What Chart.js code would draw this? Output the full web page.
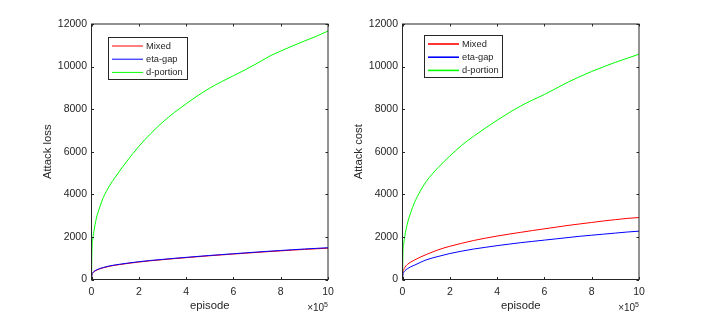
<!DOCTYPE html>
<html>
<head>
<meta charset="utf-8">
<script src="https://cdn.jsdelivr.net/npm/chart.js@4.4.1/dist/chart.umd.min.js"></script>
<style>
    body { margin: 0; background: #fff; width: 706px; height: 314px; overflow: hidden; position: relative; }
    canvas { position: absolute; top: 0; }
    #lossChart { left: 0; }
    #costChart { left: 311px; }
</style>
</head>
<body>
<canvas id="lossChart" width="353" height="314"></canvas>
<canvas id="costChart" width="353" height="314"></canvas>
<script>
// episodes in units of 10^5
const episodes = [0, 0.02, 0.05, 0.1, 0.2, 0.35, 0.5, 0.75, 1, 1.5, 2, 2.5, 3, 3.5, 4, 4.5, 5, 5.5, 6, 6.5, 7, 7.5, 8, 8.5, 9, 9.5, 10];

const seriesNames = ['Mixed', 'eta-gap', 'd-portion'];
const seriesColors = ['#ff0000', '#0000ff', '#00ff00'];

// Attack loss
const lossMixed = [0, 220, 300, 360, 430, 500, 550, 620, 670, 750, 820, 880, 930, 980, 1025, 1070, 1115, 1155, 1195, 1235, 1272, 1310, 1345, 1380, 1412, 1442, 1470];
const lossEtaGap = [0, 235, 315, 375, 445, 515, 565, 635, 685, 765, 835, 895, 945, 995, 1040, 1085, 1130, 1170, 1210, 1250, 1290, 1328, 1363, 1398, 1432, 1462, 1492];
const lossPortion = [0, 1380, 1850, 2250, 2850, 3400, 3850, 4380, 4800, 5560, 6250, 6850, 7380, 7840, 8250, 8640, 8990, 9290, 9570, 9850, 10150, 10470, 10730, 10970, 11200, 11420, 11670];

// Attack cost
const costMixed = [0, 350, 460, 570, 700, 820, 910, 1050, 1170, 1390, 1560, 1700, 1830, 1940, 2040, 2130, 2215, 2300, 2380, 2460, 2540, 2610, 2680, 2750, 2810, 2870, 2910];
const costEtaGap = [0, 250, 330, 410, 500, 600, 670, 800, 920, 1080, 1220, 1330, 1430, 1510, 1590, 1660, 1730, 1790, 1850, 1910, 1970, 2030, 2080, 2130, 2180, 2230, 2270];
const costPortion = [0, 1250, 1650, 2050, 2600, 3150, 3600, 4150, 4600, 5250, 5800, 6300, 6720, 7110, 7480, 7830, 8150, 8430, 8690, 8980, 9270, 9530, 9770, 9990, 10200, 10390, 10580];

const xTicks = [0, 2, 4, 6, 8, 10];
const yTicks = [0, 2000, 4000, 6000, 8000, 10000, 12000];

const textColor = '#262626';
const fontFamily = '"Liberation Sans", Arial, Helvetica, sans-serif';

// box, inner ticks, legend and the x10^5 exponent, MATLAB style
const framePlugin = {
    id: 'frame',
    afterDatasetsDraw(chart, args, opts) {
        const { ctx, chartArea: a, scales: { x, y } } = chart;
        ctx.save();
        ctx.strokeStyle = textColor;
        ctx.lineWidth = 1;
        ctx.strokeRect(a.left, a.top, a.right - a.left, a.bottom - a.top);

        ctx.beginPath();
        xTicks.forEach(v => {
            const px = Math.round(x.getPixelForValue(v)) + 0.5;
            ctx.moveTo(px, a.bottom); ctx.lineTo(px, a.bottom - 2.5);
            ctx.moveTo(px, a.top); ctx.lineTo(px, a.top + 2.5);
        });
        yTicks.forEach(v => {
            const py = Math.round(y.getPixelForValue(v)) + 0.5;
            ctx.moveTo(a.left, py); ctx.lineTo(a.left + 2.5, py);
            ctx.moveTo(a.right, py); ctx.lineTo(a.right - 2.5, py);
        });
        ctx.stroke();

        // legend
        const lx = a.left + opts.dx, ly = a.top + opts.dy;
        ctx.fillStyle = '#fff';
        ctx.fillRect(lx, ly, opts.w, opts.h);
        ctx.strokeStyle = '#262626';
        ctx.strokeRect(lx + 0.5, ly + 0.5, opts.w, opts.h);
        ctx.font = '9.3px ' + fontFamily;
        ctx.textBaseline = 'middle';
        chart.data.datasets.forEach((ds, i) => {
            const ry = ly + 9 + i * 13.2;
            ctx.strokeStyle = ds.borderColor;
            ctx.lineWidth = opts.lw;
            ctx.beginPath();
            ctx.moveTo(lx + 4, ry); ctx.lineTo(lx + 35, ry);
            ctx.stroke();
            ctx.fillStyle = textColor;
            ctx.fillText(ds.label, lx + 38, ry);
        });

        // exponent
        ctx.fillStyle = textColor;
        ctx.textBaseline = 'alphabetic';
        ctx.textAlign = 'right';
        ctx.font = '7px ' + fontFamily;
        ctx.fillText('5', a.right, a.bottom + 27);
        const w5 = ctx.measureText('5').width;
        ctx.font = '10px ' + fontFamily;
        ctx.fillText('×10', a.right - w5, a.bottom + 31.5);
        ctx.restore();
    }
};

function makeChart(id, yTitle, values, legend) {
    const datasets = values.map((v, i) => ({
        label: seriesNames[i],
        data: episodes.map((e, k) => ({ x: e, y: v[k] })),
        borderColor: seriesColors[i],
        borderWidth: 1,
        pointRadius: 0,
        cubicInterpolationMode: 'monotone',
        order: values.length - i
    }));

    return new Chart(document.getElementById(id), {
        type: 'line',
        data: { datasets },
        options: {
            responsive: false,
            animation: false,
            devicePixelRatio: 1,
            layout: { padding: { top: 24, right: 25, left: 0, bottom: 0 } },
            plugins: {
                legend: { display: false },
                tooltip: { enabled: false },
                frame: legend
            },
            scales: {
                x: {
                    type: 'linear',
                    min: 0,
                    max: 10,
                    afterBuildTicks: s => { s.ticks = xTicks.map(v => ({ value: v })); },
                    afterFit: s => { s.height = 34.5; },
                    grid: { display: false, drawTicks: false },
                    border: { display: false },
                    ticks: {
                        color: textColor, padding: 6, maxRotation: 0,
                        font: { family: fontFamily, size: 10.5 },
                        callback: v => String(v)
                    },
                    title: {
                        display: true, text: 'episode', color: textColor,
                        font: { family: fontFamily, size: 11.3 }, padding: { top: 0, bottom: 1.5 }
                    }
                },
                y: {
                    type: 'linear',
                    min: 0,
                    max: 12000,
                    afterBuildTicks: s => { s.ticks = yTicks.map(v => ({ value: v })); },
                    afterFit: s => { s.width = 91.5; },
                    grid: { display: false, drawTicks: false },
                    border: { display: false },
                    ticks: {
                        color: textColor, padding: 4.5,
                        font: { family: fontFamily, size: 10.5 },
                        callback: v => String(v)
                    },
                    title: {
                        display: true, text: yTitle, color: textColor,
                        font: { family: fontFamily, size: 11.3 }, padding: { top: 41, bottom: 0 }
                    }
                }
            }
        },
        plugins: [framePlugin]
    });
}

makeChart('lossChart', 'Attack loss', [lossMixed, lossEtaGap, lossPortion],
    { dx: 16.5, dy: 13, w: 79, h: 42, lw: 1 });
makeChart('costChart', 'Attack cost', [costMixed, costEtaGap, costPortion],
    { dx: 21.5, dy: 11, w: 78, h: 42, lw: 1.6 });
</script>
</body>
</html>
